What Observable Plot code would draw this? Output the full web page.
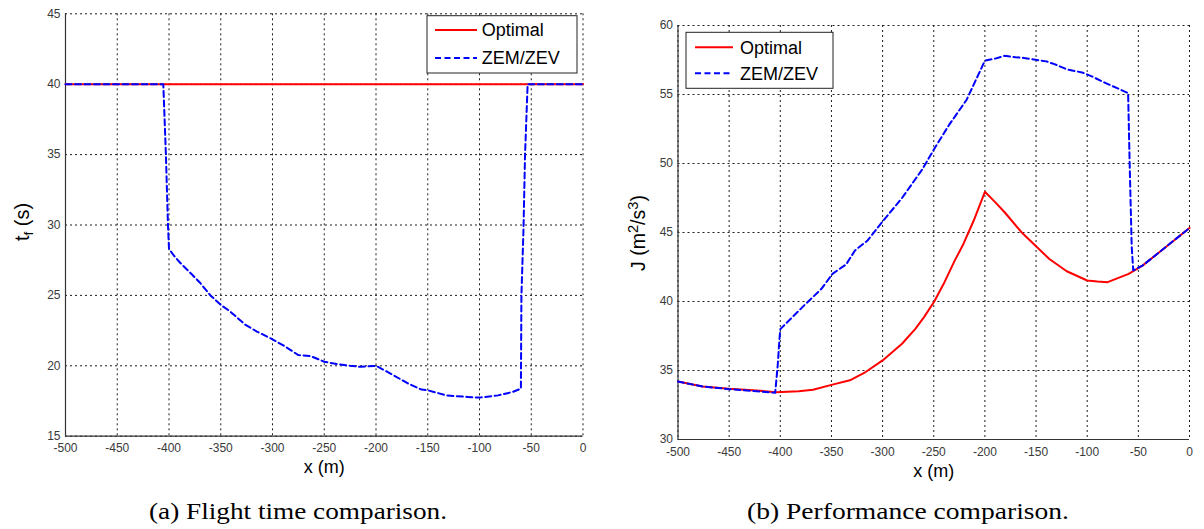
<!DOCTYPE html>
<html><head><meta charset="utf-8">
<script src="https://cdn.jsdelivr.net/npm/d3@7"></script>
<script src="https://cdn.jsdelivr.net/npm/@observablehq/plot@0.6"></script>
<style>
body{margin:0;background:#fff;}
#wrap{position:relative;width:1204px;height:529px;overflow:hidden;background:#fff;}
.panel{position:absolute;top:0;}
#caps{position:absolute;left:0;top:0;}
</style></head><body><div id="wrap"></div>
<script>
// ---------- data ----------
const xTicks = [-500, -450, -400, -350, -300, -250, -200, -150, -100, -50, 0];
const xDomain = [-500, 0];
const yTicksA = [15, 20, 25, 30, 35, 40, 45];
const yDomainA = [15, 45];
const yTicksB = [30, 35, 40, 45, 50, 55, 60];
const yDomainB = [30, 60];
const seriesNames = ["Optimal", "ZEM/ZEV"];

// (a) flight time
const optA_x = [-500, 0];
const optA_y = [40, 40];
const zemA_x = [-500, -405.5, -403, -401, -400, -395, -389, -378, -370, -360, -350, -341, -326, -315, -300, -287.5, -275, -263.5, -250, -237.5, -225, -215, -200, -186, -169, -156, -150, -132, -112, -100, -82, -68, -60, -59.5, -57.5, -56, -53.5, 0];
const zemA_y = [40, 40, 35, 30, 28.3, 27.8, 27.3, 26.5, 25.9, 25.0, 24.33, 23.86, 22.9, 22.43, 21.88, 21.36, 20.76, 20.7, 20.29, 20.12, 20.0, 19.93, 20.0, 19.45, 18.74, 18.31, 18.26, 17.9, 17.79, 17.74, 17.9, 18.14, 18.38, 25, 29.7, 35, 40, 40];

// (b) performance
const optB_x = [-500, -476, -450, -423, -404, -382, -368, -350, -332, -318, -300, -281, -268, -259.5, -249.5, -239.5, -229.5, -221, -211, -200, -190, -180.5, -164, -149, -137, -120, -100, -90, -80, -59.5, -46, -29.5, 0];
const optB_y = [34.2, 33.84, 33.67, 33.55, 33.43, 33.5, 33.6, 33.96, 34.29, 34.82, 35.73, 36.94, 38.02, 38.87, 40.0, 41.4, 42.96, 44.17, 45.85, 47.95, 47.2, 46.45, 45.0, 43.93, 43.08, 42.19, 41.52, 41.45, 41.4, 42.0, 42.6, 43.57, 45.33];
const zemB_x = [-500, -476, -450, -423, -405, -402.5, -401, -400, -375.5, -360, -349, -335.5, -327, -315, -300, -281, -261, -250, -235, -218, -200, -190, -181, -170, -162, -149, -140, -132, -119, -105, -95, -87, -75, -60, -58.5, -56.5, -55, -46, -29.5, 0];
const zemB_y = [34.2, 33.84, 33.65, 33.5, 33.38, 35.4, 37.1, 38.0, 39.8, 40.9, 42.0, 42.7, 43.7, 44.4, 45.8, 47.5, 49.6, 51.0, 52.8, 54.6, 57.45, 57.6, 57.8, 57.7, 57.65, 57.5, 57.4, 57.2, 56.8, 56.6, 56.3, 56.0, 55.6, 55.1, 50.0, 44.0, 42.25, 42.6, 43.57, 45.33];

const rows = (xs, ys) => xs.map((x, i) => ({x, y: ys[i]}));

// ---------- styles ----------
const RED = "#ff0000", BLUE = "#0000ff";
const DASH = "6,3.5";
const FONT = "'Liberation Sans', Arial, Helvetica, sans-serif";
const gridStyle = {stroke: "#111", strokeOpacity: 0.95, strokeDasharray: "2,3", strokeWidth: 1};

function panel({left, width, height, mL, mR, mT, mB, yDomain, yTicks, opt, zem}) {
  const chart = Plot.plot({
    width, height,
    marginLeft: mL, marginRight: mR, marginTop: mT, marginBottom: mB,
    x: {domain: xDomain, label: null},
    y: {domain: yDomain, label: null},
    style: {fontFamily: FONT, background: "transparent", overflow: "visible"},
    marks: [
      Plot.gridX(xTicks, gridStyle),
      Plot.gridY(yTicks, gridStyle),
      Plot.ruleX([xDomain[0]], {stroke: "#333", strokeWidth: 1.2}),
      Plot.ruleY([yDomain[0]], {stroke: "#333", strokeWidth: 1.2}),
      Plot.axisX(xTicks, {tickSize: 0, tickPadding: 7.5, fontSize: 12, fill: "#3a3a3a", tickFormat: d => String(d), label: null}),
      Plot.axisY(yTicks, {tickSize: 0, tickPadding: 5, fontSize: 12, fill: "#3a3a3a", tickFormat: d => String(d), label: null}),
      Plot.line(opt, {x: "x", y: "y", stroke: RED, strokeWidth: 2}),
      Plot.line(zem, {x: "x", y: "y", stroke: BLUE, strokeWidth: 2, strokeDasharray: DASH}),
      Plot.text(["x (m)"], {frameAnchor: "bottom", dy: 37, fontSize: 18, fill: "#000"})
    ]
  });
  chart.classList.add("panel");
  chart.style.left = left + "px";
  document.getElementById("wrap").appendChild(chart);
  return chart;
}

const chartA = panel({left: 0, width: 600, height: 490, mL: 65, mR: 17.5, mT: 13.3, mB: 54.3,
  yDomain: yDomainA, yTicks: yTicksA, opt: rows(optA_x, optA_y), zem: rows(zemA_x, zemA_y)});
const chartB = panel({left: 600, width: 604, height: 490, mL: 77.5, mR: 15, mT: 25, mB: 51,
  yDomain: yDomainB, yTicks: yTicksB, opt: rows(optB_x, optB_y), zem: rows(zemB_x, zemB_y)});

// ---------- y labels ----------
function yLabel(chart, cx, cy, size, parts) {
  const t = d3.select(chart).append("text")
    .attr("transform", `translate(${cx},${cy}) rotate(-90)`)
    .attr("text-anchor", "middle").attr("dy", "0.32em")
    .attr("font-size", size).attr("font-family", FONT).attr("fill", "#000");
  parts.forEach(p => {
    const s = t.append("tspan").text(p.t);
    if (p.sub) s.attr("font-size", size * 0.68).attr("baseline-shift", "-30%");
    if (p.sup) s.attr("font-size", size * 0.75).attr("baseline-shift", "48%");
  });
}
yLabel(chartA, 23, 222, 20, [{t: "t"}, {t: "f", sub: true}, {t: " (s)"}]);
yLabel(chartB, 39, 233, 19.5, [{t: "J (m"}, {t: "2", sup: true}, {t: "/s"}, {t: "3", sup: true}, {t: ")"}]);

// ---------- legends ----------
function legend(chart, bx, by, bw, bh, lx1, lx2, tx, ly) {
  const g = d3.select(chart).append("g");
  g.append("rect").attr("x", bx).attr("y", by).attr("width", bw).attr("height", bh)
    .attr("fill", "#fff").attr("stroke", "#222").attr("stroke-width", 1);
  seriesNames.forEach((name, i) => {
    g.append("line").attr("x1", bx + lx1).attr("x2", bx + lx2).attr("y1", by + ly[i]).attr("y2", by + ly[i])
      .attr("stroke", i === 0 ? RED : BLUE).attr("stroke-width", 2)
      .attr("stroke-dasharray", i === 0 ? null : DASH);
    g.append("text").attr("x", bx + tx).attr("y", by + ly[i]).attr("dy", "0.35em")
      .attr("text-anchor", "start")
      .attr("font-size", 18).attr("font-family", FONT).attr("fill", "#000").text(name);
  });
}
legend(chartA, 427, 15.7, 150, 57.3, 8, 50, 54.7, [14.3, 42.3]);
legend(chartB, 86, 32.3, 147, 56, 9, 47, 54, [15, 41]);

// ---------- captions ----------
const caps = d3.select("#wrap").append("svg").attr("id", "caps").attr("width", 1204).attr("height", 529);
[["(a) Flight time comparison.", 298, 298], ["(b) Performance comparison.", 908, 322]].forEach(([txt, cx, w]) => {
  caps.append("text").attr("x", cx).attr("y", 519).attr("text-anchor", "middle")
    .attr("font-family", "'Liberation Serif', 'DejaVu Serif', serif").attr("font-size", 23)
    .attr("textLength", w).attr("lengthAdjust", "spacingAndGlyphs").attr("fill", "#000").text(txt);
});
</script></body></html>
